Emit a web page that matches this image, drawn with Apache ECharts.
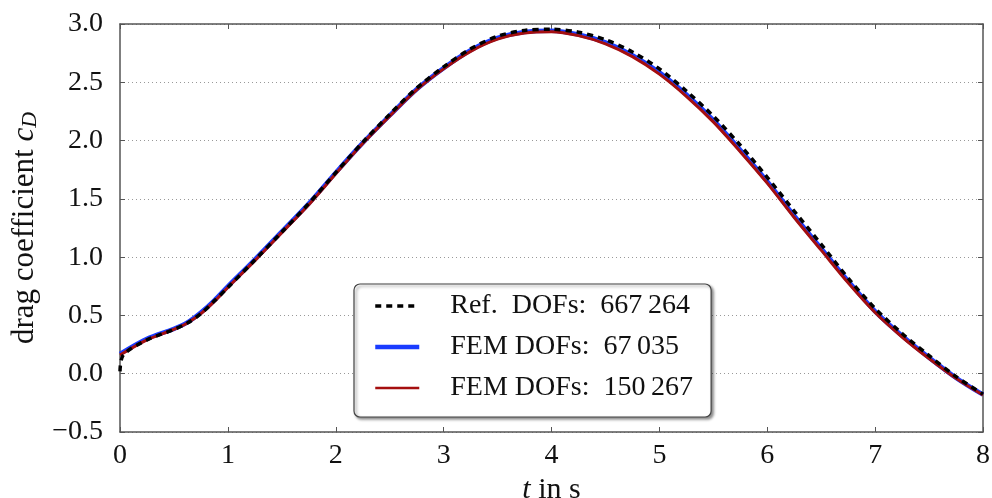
<!DOCTYPE html>
<html>
<head>
<meta charset="utf-8">
<script src="https://cdn.jsdelivr.net/npm/echarts@6/dist/echarts.min.js"></script>
<style>
  html, body { margin: 0; padding: 0; background: #fff; }
  #main { width: 992px; height: 498px; }
</style>
</head>
<body>
<div id="main"></div>
<script>
// time samples (s)
const tRef = [0, 0.03, 0.25, 0.5, 0.625, 0.75, 0.875, 1.0, 1.25, 1.5, 1.75, 2.0, 2.25, 2.5, 2.75, 3.0, 3.25, 3.5, 3.75, 4.0,
  4.25, 4.5, 4.75, 5.0, 5.25, 5.5, 5.75, 6.0, 6.25, 6.5, 6.75, 7.0, 7.25, 7.5, 7.75, 8.0];
const tFem = [0, 0.25, 0.5, 0.625, 0.75, 0.875, 1.0, 1.25, 1.5, 1.75, 2.0, 2.25, 2.5, 2.75, 3.0, 3.25, 3.5, 3.75, 4.0,
  4.25, 4.5, 4.75, 5.0, 5.25, 5.5, 5.75, 6.0, 6.25, 6.5, 6.75, 7.0, 7.25, 7.5, 7.75, 8.0];

// drag coefficient values
const cdRef = [0.02, 0.16, 0.29, 0.38, 0.435, 0.515, 0.625, 0.74, 0.975, 1.215, 1.46, 1.725, 1.985, 2.225, 2.45, 2.632, 2.787, 2.895, 2.945, 2.955,
  2.93, 2.865, 2.76, 2.615, 2.425, 2.21, 1.96, 1.685, 1.395, 1.11, 0.82, 0.56, 0.345, 0.155, -0.025, -0.175];
const cdFem1 = [0.17, 0.30, 0.385, 0.44, 0.525, 0.63, 0.75, 0.98, 1.22, 1.46, 1.725, 1.98, 2.215, 2.44, 2.622, 2.775, 2.88, 2.932, 2.943,
  2.91, 2.842, 2.733, 2.585, 2.395, 2.175, 1.92, 1.65, 1.355, 1.075, 0.795, 0.535, 0.325, 0.138, -0.035, -0.18];
const cdFem2 = [0.16, 0.29, 0.38, 0.435, 0.515, 0.62, 0.74, 0.97, 1.21, 1.45, 1.715, 1.975, 2.21, 2.435, 2.615, 2.765, 2.87, 2.922, 2.934,
  2.9, 2.83, 2.72, 2.57, 2.38, 2.16, 1.905, 1.635, 1.34, 1.06, 0.78, 0.525, 0.315, 0.13, -0.04, -0.183];

const names = ['Ref.  DOFs:  667\u2009264', 'FEM DOFs:  67\u2009035', 'FEM DOFs:  150\u2009267'];
const yTicks = { min: -0.5, max: 3.0, step: 0.5 };

const font = '"Liberation Serif", "DejaVu Serif", serif';

function pairs(xs, ys) {
  return xs.map((x, i) => [x, ys[i]]);
}

const chart = echarts.init(document.getElementById('main'));

const axisLine = { show: true, onZero: false, lineStyle: { color: '#555', width: 1.5 } };
const axisTick = { show: true, inside: true, length: 5, lineStyle: { color: '#555', width: 1 } };

const refLine = { color: '#000', width: 3.5, type: [6, 5] };
const coarseLine = { color: '#1a3cff', width: 4.5 };
const fineLine = { color: '#a50f0f', width: 3 };

chart.setOption({
  animation: false,
  textStyle: { fontFamily: font },
  grid: { left: 120, right: 9, top: 24, bottom: 66, outerBoundsMode: 'none', containLabel: false },
  xAxis: [{
    type: 'value', min: 0, max: 8, interval: 1,
    axisLine: axisLine, axisTick: axisTick, splitLine: { show: false },
    axisLabel: { color: '#111', fontSize: 28, fontFamily: font, margin: 10 },
    name: '{i|t} in s', nameLocation: 'middle', nameGap: 34,
    nameTextStyle: {
      color: '#111', fontSize: 30, fontFamily: font,
      rich: { i: { fontStyle: 'italic', fontSize: 30, fontFamily: font, color: '#111' } }
    }
  }, {
    type: 'value', min: 0, max: 8, interval: 1, position: 'top',
    axisLine: axisLine, axisTick: axisTick, axisLabel: { show: false }, splitLine: { show: false }
  }],
  yAxis: [{
    type: 'value', min: yTicks.min, max: yTicks.max, interval: yTicks.step,
    axisLine: axisLine, axisTick: axisTick,
    splitLine: { show: true, lineStyle: { color: '#999', type: [1, 3], width: 1 } },
    axisLabel: {
      color: '#111', fontSize: 28, fontFamily: font, margin: 17,
      formatter: v => (v < 0 ? '\u2212' : '') + Math.abs(v).toFixed(1)
    },
    name: 'drag coefficient {i|c}{s|D}', nameLocation: 'middle', nameGap: 76, nameRotate: 90,
    nameTextStyle: {
      color: '#111', fontSize: 31, fontFamily: font,
      rich: {
        i: { fontStyle: 'italic', fontSize: 31, fontFamily: font, color: '#111' },
        s: { fontStyle: 'italic', fontSize: 22, fontFamily: font, color: '#111', verticalAlign: 'bottom', padding: [10, 0, 0, 0] }
      }
    }
  }, {
    type: 'value', min: yTicks.min, max: yTicks.max, interval: yTicks.step, position: 'right',
    axisLine: axisLine, axisTick: axisTick, axisLabel: { show: false }, splitLine: { show: false }
  }],
  legend: {
    orient: 'vertical',
    left: 354, top: 284,
    padding: [7, 18, 14, 19],
    itemWidth: 44, itemHeight: 14, itemGap: 11,
    backgroundColor: '#fff',
    borderColor: '#444', borderWidth: 1.2, borderRadius: 6,
    shadowBlur: 3, shadowOffsetX: 2, shadowOffsetY: 2, shadowColor: 'rgba(0,0,0,0.45)',
    itemStyle: { opacity: 0, borderWidth: 0 },
    textStyle: { color: '#111', fontSize: 28, fontFamily: font, lineHeight: 30, padding: [0, 0, 0, 26] },
    data: [
      { name: names[0], lineStyle: refLine },
      { name: names[1], lineStyle: coarseLine },
      { name: names[2], lineStyle: { color: fineLine.color, width: 2.5 } }
    ]
  },
  series: [{
    name: names[1], type: 'line', data: pairs(tFem, cdFem1), smooth: 0.3,
    showSymbol: false, symbol: 'none', z: 2,
    lineStyle: coarseLine, itemStyle: { color: coarseLine.color }
  }, {
    name: names[2], type: 'line', data: pairs(tFem, cdFem2), smooth: 0.3,
    showSymbol: false, symbol: 'none', z: 3,
    lineStyle: fineLine, itemStyle: { color: fineLine.color }
  }, {
    name: names[0], type: 'line', data: pairs(tRef, cdRef), smooth: 0.3,
    showSymbol: false, symbol: 'none', z: 4,
    lineStyle: refLine, itemStyle: { color: '#000' }
  }]
});
</script>
</body>
</html>
